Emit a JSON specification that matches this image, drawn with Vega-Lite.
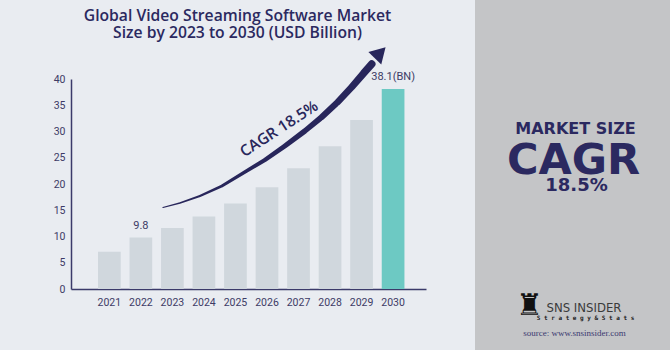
{
  "$schema": "https://vega.github.io/schema/vega-lite/v6.json",
  "background": "#e9ecf1",
  "padding": 0,
  "spacing": 0,
  "bounds": "flush",
  "datasets": {
    "market": [
      {"year": "2021", "value": 7.1, "label": ""},
      {"year": "2022", "value": 9.8, "label": "9.8"},
      {"year": "2023", "value": 11.6, "label": ""},
      {"year": "2024", "value": 13.8, "label": ""},
      {"year": "2025", "value": 16.3, "label": ""},
      {"year": "2026", "value": 19.4, "label": ""},
      {"year": "2027", "value": 23.0, "label": ""},
      {"year": "2028", "value": 27.2, "label": ""},
      {"year": "2029", "value": 32.2, "label": ""},
      {"year": "2030", "value": 38.1, "label": "38.1(BN)"}
    ],
    "arrow": [
      {"t": 2022.702, "v": 15.52},
      {"t": 2023.242, "v": 16.38},
      {"t": 2023.876, "v": 17.71},
      {"t": 2024.574, "v": 19.62},
      {"t": 2025.304, "v": 22.29},
      {"t": 2025.938, "v": 24.57},
      {"t": 2026.573, "v": 27.24},
      {"t": 2027.207, "v": 30.10},
      {"t": 2027.746, "v": 32.76},
      {"t": 2028.254, "v": 35.62},
      {"t": 2028.698, "v": 38.48},
      {"t": 2029.079, "v": 41.14},
      {"t": 2029.332, "v": 42.86}
    ],
    "panel": [
      {"item": "head", "text": "MARKET SIZE"},
      {"item": "big", "text": "CAGR"},
      {"item": "rate", "text": "18.5%"},
      {"item": "icon", "text": "♜"},
      {"item": "brand", "text": "SNS INSIDER"},
      {"item": "tag", "text": "S t r a t e g y   &   S t a t s"},
      {"item": "source", "text": "source: www.snsinsider.com"}
    ]
  },
  "config": {
    "view": {"stroke": null},
    "axis": {"labelFont": "Roboto", "labelFontSize": 10.5, "labelColor": "#3d3b66", "domainColor": "#3b3a6a", "domainWidth": 1.5, "ticks": false, "grid": false, "title": null, "labelOverlap": false}
  },
  "hconcat": [
    {
      "width": 475,
      "height": 350,
      "title": {
        "text": ["Global Video Streaming Software Market", "Size by 2023 to 2030 (USD Billion)"],
        "font": "Open Sans",
        "fontSize": 15.7,
        "fontWeight": 600,
        "color": "#2b2960",
        "lineHeight": 17.5,
        "anchor": "middle",
        "frame": "group",
        "offset": -42
      },
      "resolve": {"scale": {"x": "independent"}},
      "layer": [
        {
          "data": {"name": "market"},
          "layer": [
            {
              "mark": {"type": "bar"},
              "encoding": {
                "x": {"field": "year", "type": "nominal", "scale": {"range": [71, 426], "paddingInner": 0.28, "paddingOuter": 0.77, "align": 0.556},
                      "axis": {"labelAngle": 0, "labelPadding": 8, "offset": -61}},
                "y": {"field": "value", "type": "quantitative", "scale": {"domain": [0, 40], "nice": false, "range": [289, 79]},
                      "axis": {"values": [0, 5, 10, 15, 20, 25, 30, 35, 40], "labelPadding": 6, "offset": -71}},
                "color": {"condition": {"test": "datum.year === '2030'", "value": "#6dc9c3"}, "value": "#d0d7dd"}
              }
            },
            {
              "transform": [{"filter": "datum.label !== ''"}],
              "mark": {"type": "text", "baseline": "bottom", "dy": -7, "font": "Roboto", "fontSize": 11, "color": "#3d3b66"},
              "encoding": {
                "x": {"field": "year", "type": "nominal"},
                "y": {"field": "value", "type": "quantitative"},
                "text": {"field": "label"}
              }
            }
          ]
        },
        {
          "layer": [
            {
              "data": {"name": "arrow"},
              "mark": {"type": "trail", "color": "#28265b"},
              "encoding": {
                "x": {"field": "t", "type": "quantitative", "scale": {"domain": [2019.784, 2031.054], "range": [71, 426], "nice": false, "zero": false}, "axis": null},
                "y": {"field": "v", "type": "quantitative"},
                "size": {"field": "t", "type": "quantitative", "scale": {"domain": [2022.7, 2029.33], "range": [1, 7.5], "zero": false}, "legend": null}
              }
            },
            {
              "data": {"values": [{"t": 2029.6, "v": 45.0}]},
              "mark": {"type": "point", "shape": "triangle-up", "filled": true, "opacity": 1, "angle": 44, "size": 320, "color": "#28265b"},
              "encoding": {
                "x": {"field": "t", "type": "quantitative"},
                "y": {"field": "v", "type": "quantitative"}
              }
            },
            {
              "data": {"values": [{"t": 2026.39, "v": 30.5, "label": "CAGR 18.5%"}]},
              "mark": {"type": "text", "angle": 327, "font": "Open Sans", "fontSize": 15.5, "fontWeight": 600, "color": "#28265b", "baseline": "middle"},
              "encoding": {
                "x": {"field": "t", "type": "quantitative"},
                "y": {"field": "v", "type": "quantitative"},
                "text": {"field": "label"}
              }
            }
          ]
        }
      ]
    },
    {
      "width": 195,
      "height": 350,
      "view": {"fill": "#c4c5c7"},
      "data": {"name": "panel"},
      "layer": [
        {"transform": [{"filter": "datum.item === 'head'"}], "mark": {"type": "text", "font": "DejaVu Sans", "fontWeight": "bold", "fontSize": 16, "color": "#2b2960", "baseline": "middle", "dx": 3, "dy": -46}, "encoding": {"text": {"field": "text"}}},
        {"transform": [{"filter": "datum.item === 'big'"}], "mark": {"type": "text", "font": "DejaVu Sans", "fontWeight": "bold", "fontSize": 43, "color": "#2b2960", "baseline": "middle", "dx": 1, "dy": -14}, "encoding": {"text": {"field": "text"}}},
        {"transform": [{"filter": "datum.item === 'rate'"}], "mark": {"type": "text", "font": "DejaVu Sans", "fontWeight": "bold", "fontSize": 18, "color": "#2b2960", "baseline": "middle", "dx": 4, "dy": 11}, "encoding": {"text": {"field": "text"}}},
        {"transform": [{"filter": "datum.item === 'icon'"}], "mark": {"type": "text", "font": "DejaVu Sans", "fontSize": 30, "color": "#111111", "baseline": "middle", "dx": -43, "dy": 131}, "encoding": {"text": {"field": "text"}}},
        {"transform": [{"filter": "datum.item === 'brand'"}], "mark": {"type": "text", "font": "DejaVu Sans Condensed", "fontSize": 13, "color": "#3a3a3a", "baseline": "middle", "dx": 11.5, "dy": 133}, "encoding": {"text": {"field": "text"}}},
        {"transform": [{"filter": "datum.item === 'tag'"}], "mark": {"type": "text", "font": "DejaVu Sans Mono", "fontWeight": "bold", "fontSize": 6, "color": "#222222", "baseline": "middle", "dx": 13, "dy": 143}, "encoding": {"text": {"field": "text"}}},
        {"transform": [{"filter": "datum.item === 'source'"}], "mark": {"type": "text", "font": "Liberation Serif", "fontSize": 9, "color": "#3b3a70", "baseline": "middle", "dx": 2, "dy": 158}, "encoding": {"text": {"field": "text"}}}
      ]
    }
  ]
}
